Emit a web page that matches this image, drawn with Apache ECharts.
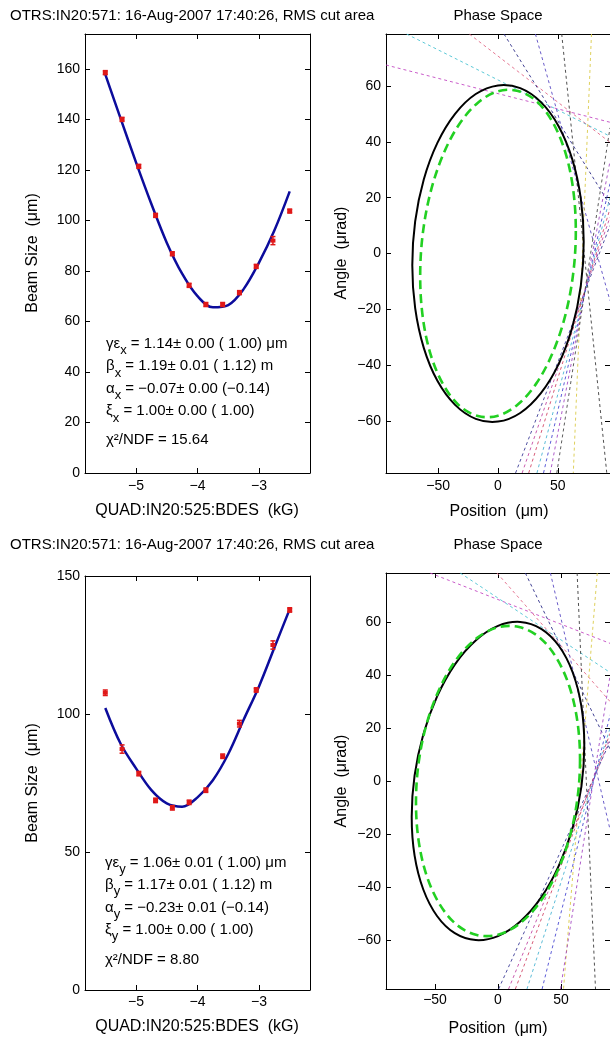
<!DOCTYPE html>
<html><head><meta charset="utf-8">
<script src="https://cdn.jsdelivr.net/npm/echarts@6/dist/echarts.min.js"></script>
<style>html,body{margin:0;padding:0;background:#fff}#c{width:610px;height:1042px}</style>
</head><body><div id="c"></div>
<script>
// ---------------- data ----------------
const quadValues = [-5.5, -5.227, -4.955, -4.682, -4.409, -4.136, -3.864, -3.591, -3.318, -3.045, -2.773, -2.5];
const beamSizeX    = [158.5, 140.0, 121.4, 102.0, 86.8, 74.3, 66.7, 66.7, 71.4, 81.8, 92.0, 103.7];
const beamSizeXErr = [0.8, 0.8, 0.8, 0.8, 0.8, 0.8, 0.8, 0.8, 0.8, 0.8, 1.6, 0.8];
const beamSizeY    = [107.7, 87.3, 78.4, 68.7, 66.0, 68.0, 72.4, 84.7, 96.5, 108.7, 125.0, 137.7];
const beamSizeYErr = [1.0, 1.5, 0.8, 0.8, 0.8, 0.8, 0.8, 0.8, 1.2, 0.8, 1.5, 0.8];

const fitQuad  = [-5.5, -5.25, -5.0, -4.75, -4.5, -4.25, -4.0, -3.75, -3.5, -3.25, -3.0, -2.75, -2.5];
const fitSizeX = [157.8, 140.3, 123.0, 106.5, 91.2, 78.9, 70.0, 65.6, 66.5, 72.8, 83.3, 96.0, 111.5];
const fitSizeY = [102.2, 89.2, 80.3, 72.4, 67.6, 66.4, 69.8, 76.0, 85.5, 97.9, 110.0, 124.0, 138.0];

// phase space ellipses (position um, angle urad), closed outlines
const ellipseMeasX = [[71.7,4.2],[69.3,-11.5],[62.1,-26.5],[50.7,-39.6],[35.9,-50.0],[18.6,-57.1],[0,-60.2],[-18.6,-59.2],[-35.9,-54.2],[-50.7,-45.6],[-62.1,-33.8],[-69.3,-19.6],[-71.7,-4.2],[-69.3,11.5],[-62.1,26.5],[-50.7,39.6],[-35.9,50.0],[-18.6,57.1],[0,60.2],[18.6,59.2],[35.9,54.2],[50.7,45.6],[62.1,33.8],[69.3,19.6]];
const ellipseDesign = [[65.1,8.1],[62.9,-7.2],[56.4,-22.0],[46.0,-35.3],[32.6,-46.2],[16.8,-54.0],[0,-58.1],[-16.8,-58.2],[-32.6,-54.4],[-46.0,-46.8],[-56.4,-36.1],[-62.9,-22.9],[-65.1,-8.1],[-62.9,7.2],[-56.4,22.0],[-46.0,35.3],[-32.6,46.2],[-16.8,54.0],[0,58.1],[16.8,58.2],[32.6,54.4],[46.0,46.8],[56.4,36.1],[62.9,22.9]];
const ellipseMeasY = [[68.5,13.5],[66.2,-2.1],[59.3,-17.6],[48.4,-31.9],[34.3,-44.0],[17.7,-53.1],[0,-58.6],[-17.7,-60.1],[-34.3,-57.5],[-48.4,-51.0],[-59.3,-41.0],[-66.2,-28.2],[-68.5,-13.5],[-66.2,2.1],[-59.3,17.6],[-48.4,31.9],[-34.3,44.0],[-17.7,53.1],[0,58.6],[17.7,60.1],[34.3,57.5],[48.4,51.0],[59.3,41.0],[66.2,28.2]];

// measurement lines in phase space (pairs of end points)
const linesX = [
  [[-93.7,67.5],[93.7,47.0]], [[-76.5,78.6],[93.7,42.0]], [[-24,78.6],[93.7,39.8]],
  [[5,78.6],[93.7,17.4]], [[31.3,78.6],[93.7,-16.9]], [[53.3,78.6],[91,-78.6]],
  [[78.2,78.6],[63,-78.6]], [[14.7,-78.6],[93.7,10]], [[20.2,-78.6],[93.7,13]],
  [[25.7,-78.6],[93.7,16]], [[32.6,-78.6],[93.7,20]], [[38.1,-78.6],[93.7,25]],
  [[43.7,-78.6],[93.7,33]], [[49.2,-78.6],[93.7,45]]
];
const linesY = [
  [[-53.9,78.6],[89,52]], [[-30,78.6],[89,41]], [[-0.8,78.6],[89,30]],
  [[21.7,78.6],[89,12]], [[41.6,78.6],[89,-18.5]], [[62.8,78.6],[77.4,-78.6]],
  [[78.8,78.6],[52,-78.6]], [[0.5,-78.6],[89,15]], [[8.4,-78.6],[89,16]],
  [[13.8,-78.6],[89,18]], [[23,-78.6],[89,20]], [[35,-78.6],[89,25]],
  [[49.6,-78.6],[89,40]]
];

const quadTicks = [-5, -4, -3];
const sizeTicksX = [0, 20, 40, 60, 80, 100, 120, 140, 160];
const sizeTicksY = [0, 50, 100, 150];
const posTicks = [-50, 0, 50];
const angTicks = [-60, -40, -20, 0, 20, 40, 60];

const titleText = 'OTRS:IN20:571: 16-Aug-2007 17:40:26, RMS cut area';
const annoX = [['γε','x',' = 1.14± 0.00 ( 1.00) μm'],['β','x',' = 1.19± 0.01 ( 1.12) m'],['α','x',' = −0.07± 0.00 (−0.14)'],['ξ','x',' = 1.00± 0.00 ( 1.00)']];
const chiX = 'χ²/NDF = 15.64';
const annoY = [['γε','y',' = 1.06± 0.01 ( 1.00) μm'],['β','y',' = 1.17± 0.01 ( 1.12) m'],['α','y',' = −0.23± 0.01 (−0.14)'],['ξ','y',' = 1.00± 0.00 ( 1.00)']];
const chiY = 'χ²/NDF = 8.80';

// ---------------- styles ----------------
const F = '"Liberation Sans", Arial, Helvetica, sans-serif';
const lineColors = ['#c040c0','#40c0d0','#e06080','#202080','#5040c0','#303030','#d8c840','#303090','#c040a0','#d04060','#40b0d0','#4040d0','#a040c0','#404040'];
const fmt = v => (v < 0 ? '\u2212' + Math.abs(v) : String(v));

function xAx(grid, min, max, ticks, top, margin) {
  return { type:'value', gridIndex:grid, min:min, max:max, position: top ? 'top' : 'bottom',
    axisLine:{show:true, onZero:false, lineStyle:{color:'#000', width:1}},
    axisTick:{show:true, inside:true, length:5, customValues:ticks, lineStyle:{color:'#000', width:1}},
    axisLabel:{show:!top, customValues:ticks, formatter:fmt, color:'#000', fontSize:14, fontFamily:F, margin:margin},
    splitLine:{show:false} };
}
function yAx(grid, min, max, ticks, right) {
  return { type:'value', gridIndex:grid, min:min, max:max, position: right ? 'right' : 'left',
    axisLine:{show:true, onZero:false, lineStyle:{color:'#000', width:1}},
    axisTick:{show:true, inside:true, length:5, customValues:ticks, lineStyle:{color:'#000', width:1}},
    axisLabel:{show:!right, customValues:ticks, formatter:fmt, color:'#000', fontSize:14, fontFamily:F, margin:5},
    splitLine:{show:false} };
}

const grids = [
  {left:85, top:34, width:225, height:439},
  {left:386, top:34, width:226, height:439},
  {left:85, top:576, width:225, height:414},
  {left:386, top:573, width:224, height:416}
];
const xAxes = [
  xAx(0,-5.83,-2.17,quadTicks,false,6), xAx(0,-5.83,-2.17,quadTicks,true),
  xAx(1,-93.7,93.7,posTicks,false,6), xAx(1,-93.7,93.7,posTicks,true),
  xAx(2,-5.83,-2.17,quadTicks,false,5), xAx(2,-5.83,-2.17,quadTicks,true),
  xAx(3,-88.9,88.9,posTicks,false,4), xAx(3,-88.9,88.9,posTicks,true)
];
const yAxes = [
  yAx(0,0,173.8,sizeTicksX,false), yAx(0,0,173.8,sizeTicksX,true),
  yAx(1,-78.6,78.6,angTicks,false), yAx(1,-78.6,78.6,angTicks,true),
  yAx(2,0,150,sizeTicksY,false), yAx(2,0,150,sizeTicksY,true),
  yAx(3,-78.6,78.6,angTicks,false), yAx(3,-78.6,78.6,angTicks,true)
];

function fitSeries(g, ys) {
  return { type:'line', xAxisIndex:2*g, yAxisIndex:2*g, data: fitQuad.map((q,i)=>[q, ys[i]]),
    smooth:0.35, showSymbol:false, symbol:'none', lineStyle:{color:'#0c0c9c', width:2.5}, z:3 };
}
function pointSeries(g, ys, es) {
  return { type:'custom', xAxisIndex:2*g, yAxisIndex:2*g, z:4,
    data: quadValues.map((q,i)=>[q, ys[i], es[i]]),
    renderItem: function(params, api) {
      const x = api.value(0), y = api.value(1), e = api.value(2);
      const p1 = api.coord([x, y - e]), p2 = api.coord([x, y + e]), c = api.coord([x, y]);
      const col = '#e01818';
      return { type:'group', children:[
        {type:'line', shape:{x1:p1[0], y1:p1[1], x2:p2[0], y2:p2[1]}, style:{stroke:col, lineWidth:1.5}},
        {type:'line', shape:{x1:p1[0]-2.5, y1:p1[1], x2:p1[0]+2.5, y2:p1[1]}, style:{stroke:col, lineWidth:1.5}},
        {type:'line', shape:{x1:p2[0]-2.5, y1:p2[1], x2:p2[0]+2.5, y2:p2[1]}, style:{stroke:col, lineWidth:1.5}},
        {type:'rect', shape:{x:c[0]-2.5, y:c[1]-2, width:5, height:4}, style:{fill:col}}
      ]};
    } };
}
function lineSet(g, set) {
  return set.map((pts, i) => ({ type:'line', xAxisIndex:2*g, yAxisIndex:2*g, data: pts, showSymbol:false, symbol:'none',
    lineStyle:{color: lineColors[i % lineColors.length], width:1, type:[3,3], opacity:0.85}, z:1 }));
}
function ellipse(g, pts, design) {
  return { type:'custom', xAxisIndex:2*g, yAxisIndex:2*g, z: design ? 3 : 2, data: pts,
    renderItem: function(params, api) {
      if (params.dataIndex !== 0) return null;
      const poly = pts.map(p => api.coord(p));
      return { type:'polygon', shape:{points: poly, smooth:0.34},
        style: design ? {fill:'none', stroke:'#22d022', lineWidth:2.6, lineDash:[9,5]}
                      : {fill:'none', stroke:'#000', lineWidth:2} };
    } };
}

const series = [].concat(
  [fitSeries(0, fitSizeX), pointSeries(0, beamSizeX, beamSizeXErr)],
  lineSet(1, linesX), [ellipse(1, ellipseMeasX, false), ellipse(1, ellipseDesign, true)],
  [fitSeries(2, fitSizeY), pointSeries(2, beamSizeY, beamSizeYErr)],
  lineSet(3, linesY), [ellipse(3, ellipseMeasY, false), ellipse(3, ellipseDesign, true)]
);

// ---------------- texts ----------------
function txt(x, y, s, size, align) {
  return { type:'text', x:x, y:y, z:10,
    style:{ text:s, fill:'#000', font: size + 'px ' + F, align: align || 'center', verticalAlign:'middle' } };
}
function vtxt(x, y, s, size) {
  const t = txt(x, y, s, size); t.rotation = Math.PI / 2; return t;
}
function anno(x, yc, a) {
  return { type:'text', x:x, y:yc - 8, z:10, style:{
    text: '{a|' + a[0] + '}{b|' + a[1] + '}{a|' + a[2] + '}', align:'left', verticalAlign:'top',
    rich:{ a:{fontSize:15, fontFamily:F, fill:'#000', lineHeight:16, verticalAlign:'top'},
           b:{fontSize:13, fontFamily:F, fill:'#000', lineHeight:13, padding:[8,0,0,0], verticalAlign:'top'} } } };
}
const graphics = [
  txt(10, 15.5, titleText, 15, 'left'), txt(498, 15.5, 'Phase Space', 15),
  txt(197, 510.5, 'QUAD:IN20:525:BDES  (kG)', 16), txt(499, 512, 'Position  (μm)', 16),
  vtxt(33, 253, 'Beam Size  (μm)', 16), vtxt(342, 253, 'Angle  (μrad)', 16),
  txt(10, 545, titleText, 15, 'left'), txt(498, 545, 'Phase Space', 15),
  txt(197, 1027, 'QUAD:IN20:525:BDES  (kG)', 16), txt(498, 1029, 'Position  (μm)', 16),
  vtxt(33, 783, 'Beam Size  (μm)', 16), vtxt(342, 781, 'Angle  (μrad)', 16)
];
const annoYTop = [344, 366.5, 389, 411.5];
const annoYBot = [863, 885, 908, 930];
annoX.forEach((a, i) => graphics.push(anno(106, annoYTop[i], a)));
annoY.forEach((a, i) => graphics.push(anno(105, annoYBot[i], a)));
graphics.push(txt(106, 440, chiX, 15, 'left'));
graphics.push(txt(105, 960, chiY, 15, 'left'));

const chart = echarts.init(document.getElementById('c'), null, {renderer:'canvas'});
chart.setOption({
  animation:false, backgroundColor:'#fff',
  grid: grids, xAxis: xAxes, yAxis: yAxes, series: series, graphic: graphics
});
</script></body></html>
